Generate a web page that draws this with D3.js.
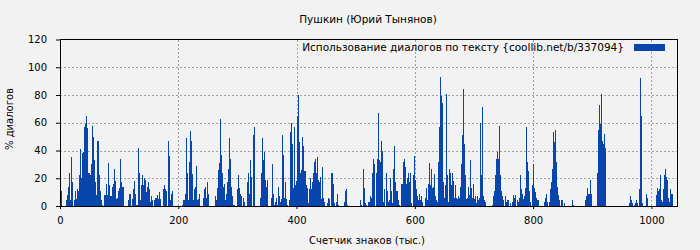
<!DOCTYPE html>
<html>
<head>
<meta charset="utf-8">
<script src="https://cdn.jsdelivr.net/npm/d3@7"></script>
<style>
  body { margin: 0; background: #f2f2f2; }
  svg { display: block; font-family: "DejaVu Sans", sans-serif; }
</style>
</head>
<body>
<div id="chart"></div>
<script>
const chartTitle = "Пушкин (Юрий Тынянов)";
const seriesName = "Использование диалогов по тексту {coollib.net/b/337094}";
const xLabel = "Счетчик знаков (тыс.)";
const yLabel = "% диалогов";
const xTicks = [0, 200, 400, 600, 800, 1000];
const yTicks = [0, 20, 40, 60, 80, 100, 120];
const xMax = 1045;   // thousand chars at right edge
const binK = 1.691;  // thousand chars per bar

// % of dialogue per bin, left to right
const share0 = [22,11,0,0,0,0,4,8,14,24,4,35,17,0,4,11,5,12,11,22,41,20,38,39,57,59,65,56,24,24,22,30,58,50,33,17,8,47,47,22,11,4,1,0,8,8,16,8,31,15,7,7,14,16,27,18,5,6,11,13,34,17,14,14,0,0,0,0,4,9,9,0,5,12,18,9,1,1,42,24,4,15,22,15,20,19,10,14,17,12,3,7,4,0,4,6,6,8,5,10,5,0,0,12,15];
const share1 = [12,11,0,47,36,4,9,11,0,0,0,0,0,0,0,0,0,1,4,4,9,49,24,4,32,54,47,23,4,12,14,29,4,5,9,0,0,0,6,12,14,6,17,9,0,0,0,0,0,0,7,4,13,26,31,63,37,24,14,16,4,9,17,27,49,34,14,7,1,1,0,0,12,22,13,9,7,0,6,3,0,0,17,24,9,33,21,0,51,57,0,0,0,0,0,6,24,49,33,39,19,14,19,0,0];
const share2 = [0,6,30,9,1,3,6,1,14,7,3,5,51,37,6,17,5,1,0,4,53,60,45,13,57,15,18,65,80,46,24,26,50,43,25,25,15,13,2,12,20,12,17,24,32,34,24,35,19,17,21,5,28,6,3,0,0,2,6,5,0,24,24,16,2,0,3,9,1,0,0,0,0,0,3,11,12,1,0,0,0,0,0,0,0,0,0,0,0,0,4,1,0,27,13,2,1,0,3,3,7,6,24,34,30];
const share3 = [0,24,34,67,33,32,47,40,3,12,0,24,11,3,4,20,11,2,27,43,17,11,11,4,1,0,16,16,32,34,28,16,20,24,17,24,2,0,22,36,19,12,7,4,9,4,7,3,0,0,6,13,4,16,31,15,27,13,14,23,7,4,3,32,57,93,79,74,17,6,15,81,22,3,27,24,15,24,18,6,15,6,5,7,6,14,30,51,84,45,22,5,6,14,8,33,13,6,16,5,7,2,7,4,6];
const share4 = [60,22,71,7,4,3,0,0,0,0,0,0,1,7,11,22,34,39,34,58,22,11,7,4,0,7,3,4,4,0,2,0,3,8,6,8,0,4,3,6,22,12,9,5,7,13,57,32,25,11,3,0,15,30,13,10,6,4,4,0,0,0,0,0,3,6,9,3,0,3,12,17,27,53,46,55,32,14,8,4,0,4,4,0,2,0,0,0,0,0,0,0,4,1,0,0,0,0,0,0,0,0,0,0,0];
const share5 = [4,7,13,9,9,19,9,0,0,0,0,0,24,55,73,59,81,47,45,52,42,0,0,0,0,0,0,0,0,0,0,0,0,0,0,0,0,0,0,0,0,0,0,0,2,7,4,2,0,1,2,4,2,0,12,92,65,2,0,0,0,9,6,0,0,0,0,0,0,0,0,8,13,11,12,22,4,3,12,22,27,21,19,6,3,12,9,9];

const dialogShare = [].concat(share0, share1, share2, share3, share4, share5);

const width = 700, height = 250;
const margin = { top: 39.5, right: 22, bottom: 44, left: 60 };

const svg = d3.select("#chart").append("svg")
    .attr("width", width)
    .attr("height", height);

svg.append("rect")
    .attr("width", width)
    .attr("height", height)
    .attr("fill", "#f2f2f2");

const x = d3.scaleLinear()
    .domain([0, xMax])
    .range([margin.left, width - margin.right]);

const y = d3.scaleLinear()
    .domain([0, 120])
    .range([height - margin.bottom, margin.top]);

// grid
const grid = svg.append("g")
    .attr("stroke", "#a0a0a0")
    .attr("stroke-dasharray", "2,2")
    .attr("shape-rendering", "crispEdges");

yTicks.filter(t => t > 0 && t < 120).forEach(t => {
    grid.append("line")
        .attr("x1", x(0)).attr("x2", x(xMax))
        .attr("y1", Math.round(y(t)) + 0.5).attr("y2", Math.round(y(t)) + 0.5);
});
xTicks.filter(t => t > 0).forEach(t => {
    grid.append("line")
        .attr("x1", Math.round(x(t)) + 0.5).attr("x2", Math.round(x(t)) + 0.5)
        .attr("y1", y(120)).attr("y2", y(0));
});

// bars
svg.append("g")
    .attr("fill", "#0846ad")
    .attr("shape-rendering", "crispEdges")
    .selectAll("rect")
    .data(dialogShare)
    .join("rect")
    .attr("x", (d, i) => x(i * binK))
    .attr("width", x(binK) - x(0))
    .attr("y", d => y(d))
    .attr("height", d => y(0) - y(d));

// axes
const yAxis = svg.append("g")
    .attr("transform", `translate(${x(0)},0)`)
    .call(d3.axisLeft(y).tickValues(yTicks).tickSize(4).tickPadding(9));
yAxis.select(".domain").remove();

const xAxis = svg.append("g")
    .attr("transform", `translate(0,${y(0)})`)
    .call(d3.axisBottom(x).tickValues(xTicks).tickFormat(d3.format("d")).tickSize(3).tickPadding(8));
xAxis.select(".domain").remove();

svg.selectAll(".tick text")
    .attr("font-family", "DejaVu Sans, sans-serif")
    .attr("font-size", 10)
    .attr("fill", "#000");

// frame
svg.append("rect")
    .attr("x", x(0) + 0.5)
    .attr("y", y(120))
    .attr("width", x(xMax) - x(0) - 1)
    .attr("height", y(0) - y(120) + 0.5)
    .attr("fill", "none")
    .attr("stroke", "#000")
    .attr("shape-rendering", "crispEdges");

// title and labels
svg.append("text")
    .attr("x", 368)
    .attr("y", 23)
    .attr("text-anchor", "middle")
    .attr("font-size", 10.5)
    .text(chartTitle);

svg.append("text")
    .attr("x", 367)
    .attr("y", 244)
    .attr("text-anchor", "middle")
    .attr("font-size", 10)
    .text(xLabel);

svg.append("text")
    .attr("transform", "translate(13,119) rotate(-90)")
    .attr("text-anchor", "middle")
    .attr("font-size", 10)
    .text(yLabel);

// legend
const legend = svg.append("g");
legend.append("text")
    .attr("x", 624)
    .attr("y", 50.5)
    .attr("text-anchor", "end")
    .attr("font-size", 10.5)
    .text(seriesName);
legend.append("rect")
    .attr("x", 634)
    .attr("y", 44)
    .attr("width", 31)
    .attr("height", 7)
    .attr("fill", "#0846ad");
</script>
</body>
</html>
